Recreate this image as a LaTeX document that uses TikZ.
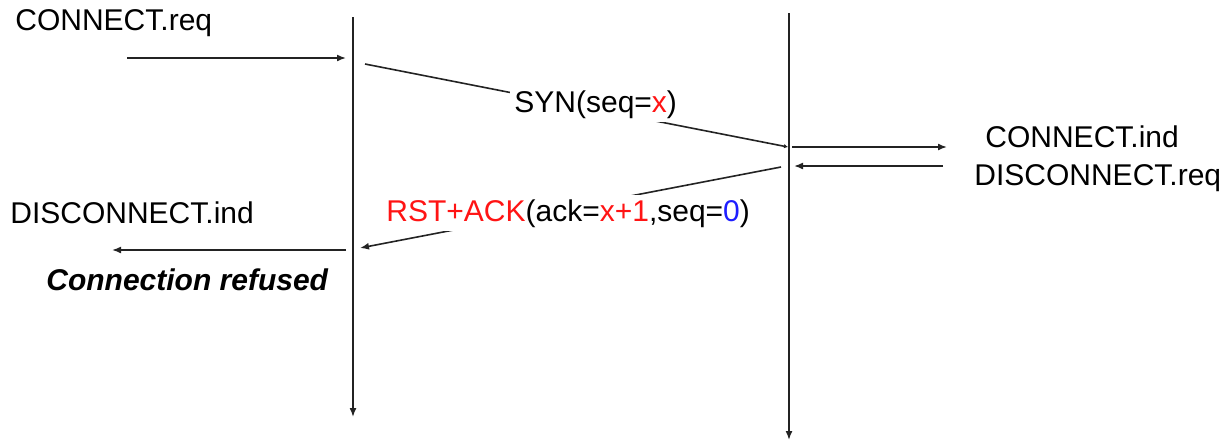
\documentclass[tikz,border=0pt]{standalone}
\usepackage{fontspec}
\setmainfont{Liberation Sans}
\usetikzlibrary{arrows.meta}
\definecolor{msgred}{RGB}{255,20,20}
\definecolor{msgblue}{RGB}{30,30,255}
\definecolor{linegray}{RGB}{35,35,35}
\begin{document}
\begin{tikzpicture}[x=0.5pt,y=-0.5pt,
  ln/.style={draw=linegray, line width=0.8pt},
  tip/.style={-{Latex[length=4.5pt,width=3.5pt]}},
  smalltip/.style={-{Latex[length=2pt,width=2.2pt]}},
  lbl/.style={inner sep=0pt, anchor=base west, font=\fontsize{15}{18}\selectfont},
  msg/.style={fill=white, inner sep=2pt, anchor=base west, font=\fontsize{15}{18}\selectfont}]
\useasboundingbox (0,0) rectangle (1224,441);
% lifelines
\coordinate (Atop) at (353,17);
\coordinate (Abot) at (353,417);
\coordinate (Btop) at (789,13);
\coordinate (Bbot) at (789,440);
\draw[ln,tip] (Atop) -- (Abot);
\draw[ln,tip] (Btop) -- (Bbot);
% CONNECT.req
\node[lbl] (creq) at (15,30) {CONNECT.req};
\coordinate (creqS) at (127,58);
\coordinate (creqE) at (346,58);
\draw[ln,tip] (creqS) -- (creqE);
% SYN
\coordinate (synS) at (365,64);
\coordinate (synE) at (788,147);
\draw[ln,smalltip] (synS) -- (synE);
\node[msg] (syn) at (510,112) {SYN(seq=\textcolor{msgred}{x})};
% CONNECT.ind
\coordinate (cindS) at (792,147);
\coordinate (cindE) at (947,147);
\draw[ln,tip] (cindS) -- (cindE);
\node[lbl] (cind) at (985,147) {CONNECT.ind};
% DISCONNECT.req
\coordinate (dreqS) at (943,166);
\coordinate (dreqE) at (794,166);
\draw[ln,tip] (dreqS) -- (dreqE);
\node[lbl] (dreq) at (974,185) {DISCONNECT.req};
% RST+ACK
\coordinate (rstS) at (781,167);
\coordinate (rstE) at (360,248);
\draw[ln,tip] (rstS) -- (rstE);
\node[msg] (rst) at (382,221) {\textcolor{msgred}{RST+ACK}(ack=\textcolor{msgred}{x+1},seq=\textcolor{msgblue}{0})};
% DISCONNECT.ind
\node[lbl] (dind) at (10,223) {DISCONNECT.ind};
\coordinate (dindS) at (346,250);
\coordinate (dindE) at (112,250);
\draw[ln,tip] (dindS) -- (dindE);
% Connection refused
\node[lbl, font=\fontsize{15}{18}\selectfont\bfseries\itshape] (refused) at (46,290) {Connection refused};
\end{tikzpicture}
\end{document}
